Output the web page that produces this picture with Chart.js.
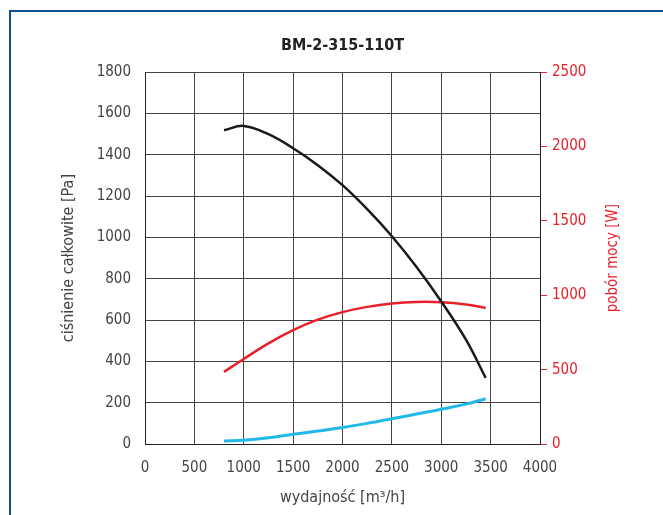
<!DOCTYPE html>
<html>
<head>
<meta charset="utf-8">
<script src="https://cdn.jsdelivr.net/npm/chart.js@4"></script>
<style>
    html, body { margin: 0; padding: 0; background: #fff; overflow: hidden; }
    #frame { position: absolute; left: 9px; top: 10px; width: 700px; height: 600px; border: 2px solid #0d4f8e; }
    #wrap { position: absolute; left: 0; top: 0; width: 663px; height: 515px; }
</style>
</head>
<body>
<div id="frame"></div>
<div id="wrap"><canvas id="fanChart"></canvas></div>
<script>
// flow points [m3/h]
const flow = [800, 1000, 1250, 1500, 1750, 2000, 2250, 2500, 2750, 3000, 3250, 3450];
// total pressure [Pa] (left axis)
const pressure = [1519, 1540, 1500, 1432, 1350, 1253, 1137, 1006, 857, 690, 505, 320];
// power input [W] (right axis)
const power = [485, 572, 677, 766, 836, 887, 922, 945, 955, 953, 938, 915];
// blue curve (left axis)
const dynPressure = [14, 18, 30, 47, 63, 80, 100, 122, 145, 168, 193, 219];

const xTicks = { min: 0, max: 4000, step: 500 };
const yTicks = { min: 0, max: 1800, step: 200 };
const y1Ticks = { min: 0, max: 2500, step: 500 };

const FONT = "'Liberation Sans Narrow', 'DejaVu Sans Condensed', 'Roboto', sans-serif";
const RED = '#e8202a';

function toPoints(xs, ys) {
    return xs.map((x, i) => ({ x: x, y: ys[i] }));
}

// right axis title reads bottom-to-top
const rightTitle = {
    id: 'rightTitle',
    afterDraw(chart) {
        const ctx = chart.ctx;
        const area = chart.chartArea;
        ctx.save();
        ctx.translate(613, (area.top + area.bottom) / 2);
        ctx.rotate(-Math.PI / 2);
        ctx.font = '15px ' + FONT;
        ctx.fillStyle = RED;
        ctx.textAlign = 'center';
        ctx.textBaseline = 'middle';
        ctx.fillText('pobór mocy [W]', 0, 0);
        ctx.restore();
    }
};

const plain = v => String(v);

function createChart() {
    const ctx = document.getElementById('fanChart');
    new Chart(ctx, {
        type: 'scatter',
        data: {
            datasets: [{
                label: 'ciśnienie',
                data: toPoints(flow, pressure),
                borderColor: '#1a1a1a',
                borderWidth: 2.5,
                yAxisID: 'y'
            }, {
                label: 'pobór mocy',
                data: toPoints(flow, power),
                borderColor: RED,
                borderWidth: 2.5,
                yAxisID: 'y1'
            }, {
                label: 'dyn',
                data: toPoints(flow, dynPressure),
                borderColor: '#22b8e8',
                borderWidth: 3,
                yAxisID: 'y'
            }]
        },
        options: {
            responsive: true,
            maintainAspectRatio: false,
            animation: false,
            datasets: {
                scatter: { showLine: true, pointRadius: 0, tension: 0.4 }
            },
            layout: { padding: 0 },
            scales: {
                x: {
                    type: 'linear',
                    min: xTicks.min, max: xTicks.max,
                    ticks: { stepSize: xTicks.step, color: '#444', padding: 15, callback: plain, font: { family: FONT, size: 15 } },
                    grid: { color: '#444', drawTicks: false },
                    border: { color: '#222' },
                    title: {
                        display: true, text: 'wydajność [m³/h]', color: '#444',
                        font: { family: FONT, size: 16 }, padding: { top: 0, bottom: 8 }
                    },
                    afterFit: s => { s.height = 71; }
                },
                y: {
                    position: 'left',
                    min: yTicks.min, max: yTicks.max,
                    ticks: { stepSize: yTicks.step, color: '#444', padding: 14, callback: plain, font: { family: FONT, size: 15 } },
                    grid: { color: '#444', drawTicks: false },
                    border: { color: '#222' },
                    title: {
                        display: true, text: 'ciśnienie całkowite [Pa]', color: '#444',
                        font: { family: FONT, size: 16 }, padding: { top: 59, bottom: 0 }
                    },
                    afterFit: s => { s.width = 145; }
                },
                y1: {
                    position: 'right',
                    min: y1Ticks.min, max: y1Ticks.max,
                    ticks: { stepSize: y1Ticks.step, color: RED, padding: 5, callback: plain, font: { family: FONT, size: 15 } },
                    grid: { drawOnChartArea: false, color: RED, tickLength: 7 },
                    border: { color: '#222' },
                    afterFit: s => { s.width = 123; }
                }
            },
            plugins: {
                legend: { display: false },
                tooltip: { enabled: false },
                title: {
                    display: true,
                    text: 'BM-2-315-110T',
                    fullSize: false,
                    color: '#222',
                    font: { family: FONT, size: 16, weight: 'bold' },
                    padding: { top: 36, bottom: 17 }
                }
            }
        },
        plugins: [rightTitle]
    });
}

document.addEventListener('DOMContentLoaded', createChart);
</script>
</body>
</html>
